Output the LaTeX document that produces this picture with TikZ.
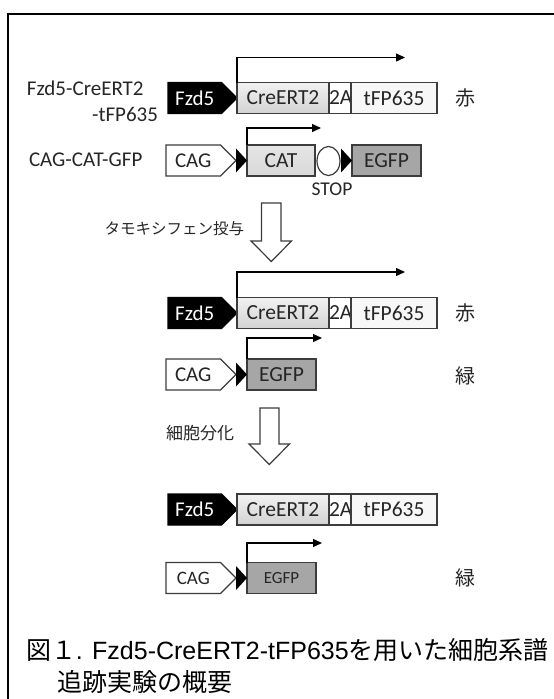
\documentclass[tikz,border=0pt]{standalone}
\usepackage{fontspec}
\setmainfont{Carlito}
\newfontfamily\jp{Noto Sans CJK JP}
\newfontfamily\lat{Liberation Sans}
\usetikzlibrary{shapes.symbols,shapes.geometric,arrows.meta}
\definecolor{boxline}{HTML}{3C3C3C}
\definecolor{txt}{HTML}{262626}
\definecolor{creTop}{HTML}{F2F2F2}
\definecolor{creBot}{HTML}{D2D2D2}
\definecolor{catFill}{HTML}{D9D9D9}
\definecolor{egfpFill}{HTML}{A6A6A6}
\definecolor{tfpFill}{HTML}{F7F7F7}
\begin{document}
\begin{tikzpicture}[x=1pt,y=-1pt,
  every node/.style={inner sep=0pt, outer sep=0pt, text=txt},
  lab/.style={font=\fontsize{21}{23}\selectfont},
  gbox/.style={draw=boxline, line width=1.2pt, minimum height=31pt, anchor=west,
    font=\fontsize{21.5}{23}\selectfont},
  crebox/.style={gbox, minimum width=92pt, top color=creTop, bottom color=creBot},
  twobox/.style={gbox, minimum width=22pt, fill=white},
  tfpbox/.style={gbox, minimum width=86pt, fill=tfpFill},
  catbox/.style={gbox, minimum width=68pt, top color=catFill!70!white, bottom color=catFill},
  egfpbox/.style={gbox, minimum width=69pt, fill=egfpFill},
  prom/.style={signal, signal to=east, signal pointer angle=90, draw=boxline,
    line width=1.2pt, minimum height=31pt, anchor=west,
    font=\fontsize{21}{23}\selectfont},
  fzd/.style={prom, fill=black, draw=black, text=white, minimum width=69pt},
  cag/.style={prom, fill=white, minimum width=70pt},
  barrow/.style={draw=black, line width=1.3pt, -{Triangle[length=9pt,width=8pt]}},
  lox/.style={fill=black},
  hollow/.style={draw=boxline, line width=1.2pt, fill=white, line join=miter},
  jlab/.style={font=\jp\fontsize{20}{22}\selectfont},
  captext/.style={font=\jp\fontsize{25}{28}\selectfont, anchor=west, text=black}
]
\useasboundingbox (0,0) rectangle (554,699);
% frame
\draw[line width=2.2pt] (8.3,710) -- (8.3,14.3) -- (570,14.3);

% ---------- Row 1 ----------
\node[lab, anchor=west] (l1a) at (27,88) {Fzd5-CreERT2};
\node[lab, anchor=east] (l1b) at (158,114) {-tFP635};
\node[fzd] (fzd1) at (168,98) {Fzd5};
\node[crebox] (cre1) at (237,98) {CreERT2};
\node[twobox] (two1) at (329,98) {2A};
\node[tfpbox] (tfp1) at (351,98) {tFP635};
\node[jlab] (red1) at (465,98) {赤};
\coordinate (t1) at (405,57.5);
\draw[barrow] (cre1.north west) |- (t1);

% ---------- Row 2 ----------
\node[lab, anchor=west] (l2) at (29,160) {CAG-CAT-GFP};
\node[cag] (cag2) at (166,160.5) {CAG};
\node[catbox] (cat2) at (247,160.5) {CAT};
\fill[lox] (cat2.west) -- ++(-11,-12) -- ++(0,24) -- cycle;
\node[ellipse, draw=boxline, line width=1.2pt, fill=white, minimum width=23pt, minimum height=29pt] (stop2) at (328.5,161) {};
\node[egfpbox] (egfp2) at (352,160.5) {EGFP};
\fill[lox] (egfp2.west) -- ++(-11,-12) -- ++(0,24) -- cycle;
\node[font=\fontsize{19.5}{21}\selectfont] (stoplbl) at (332,189) {STOP};
\coordinate (t2) at (321,128);
\draw[barrow] (cat2.north west) |- (t2);

% ---------- Arrow 1 ----------
\draw[hollow] (261.5,203) -- (281,203) -- (281,241) -- (291.5,241) -- (271.3,261.5) -- (251,241) -- (261.5,241) -- cycle;
\node[font=\jp\fontsize{15.5}{18}\selectfont, anchor=east] (tam) at (244,229) {タモキシフェン投与};

% ---------- Row 3 ----------
\node[fzd] (fzd3) at (168,313) {Fzd5};
\node[crebox] (cre3) at (237,313) {CreERT2};
\node[twobox] (two3) at (329,313) {2A};
\node[tfpbox] (tfp3) at (351,313) {tFP635};
\node[jlab] (red3) at (465,313) {赤};
\coordinate (t3) at (405,272);
\draw[barrow] (cre3.north west) |- (t3);

% ---------- Row 4 ----------
\node[cag] (cag4) at (166,374.5) {CAG};
\node[egfpbox] (egfp4) at (247,374.5) {EGFP};
\fill[lox] (egfp4.west) -- ++(-11,-12) -- ++(0,24) -- cycle;
\node[jlab] (grn4) at (465,376) {緑};
\coordinate (t4) at (322,338);
\draw[barrow] (egfp4.north west) |- (t4);

% ---------- Arrow 2 ----------
\draw[hollow] (260,408) -- (279,408) -- (279,444) -- (289.5,444) -- (269.3,464.5) -- (249,444) -- (260,444) -- cycle;
\node[font=\jp\fontsize{17}{20}\selectfont, anchor=east] (diff) at (234,433) {細胞分化};

% ---------- Row 5 ----------
\node[fzd] (fzd5) at (168,509.5) {Fzd5};
\node[crebox] (cre5) at (237,509.5) {CreERT2};
\node[twobox] (two5) at (329,509.5) {2A};
\node[tfpbox] (tfp5) at (351,509.5) {tFP635};

% ---------- Row 6 ----------
\node[cag, font=\fontsize{19}{21}\selectfont] (cag6) at (166,578) {CAG};
\node[egfpbox, font=\fontsize{17}{19}\selectfont] (egfp6) at (247,578) {EGFP};
\fill[lox] (egfp6.west) -- ++(-11,-12) -- ++(0,24) -- cycle;
\node[jlab] (grn6) at (465,578) {緑};
\coordinate (t6) at (322,543);
\draw[barrow] (egfp6.north west) |- (t6);

% ---------- Caption ----------
\node[captext] (cap1) at (26,650) {図１{\lat. Fzd5-CreERT2-tFP635}を用いた細胞系譜};
\node[captext] (cap2) at (57,682) {追跡実験の概要};
\end{tikzpicture}
\end{document}
